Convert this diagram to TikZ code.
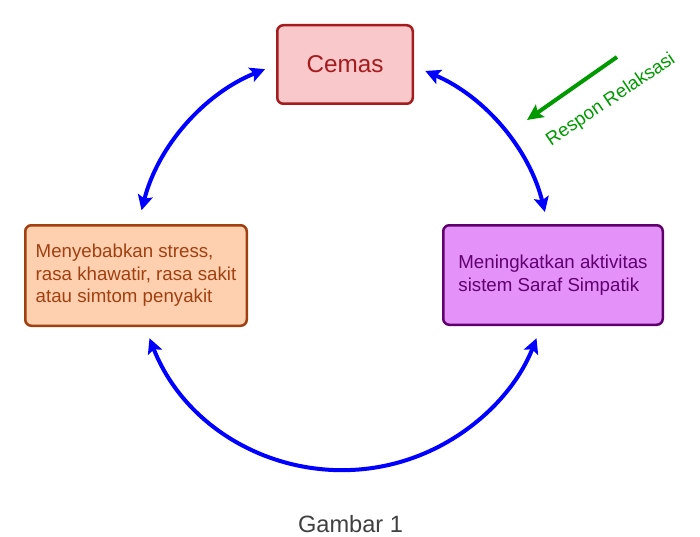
\documentclass[tikz,border=0pt]{standalone}
\usepackage{fontspec}
\setmainfont{Liberation Sans}
\usetikzlibrary{arrows.meta}
\definecolor{cemasline}{RGB}{165,28,30}
\definecolor{cemasfill}{RGB}{248,200,202}
\definecolor{stressline}{RGB}{160,64,16}
\definecolor{stressfill}{RGB}{255,208,176}
\definecolor{sarafline}{RGB}{96,0,110}
\definecolor{saraffill}{RGB}{228,145,250}
\definecolor{relaxgreen}{RGB}{0,153,0}
\begin{document}
\begin{tikzpicture}[x=1pt,y=1pt,
	box/.style={draw,line width=2.5pt,rounded corners=6pt,align=left,font=\fontsize{18.7}{22.5}\selectfont},
	cyc/.style={draw=blue,line width=4pt,<->,>={Stealth[length=15pt,width=15pt,inset=3pt]}},
	relax/.style={draw=relaxgreen,line width=4pt,->,>={Stealth[length=16pt,width=15pt,inset=3pt]}}]
	\useasboundingbox (0,0) rectangle (700,536);
	\node[box,draw=cemasline,fill=cemasfill,text=cemasline,font=\fontsize{24.3}{29}\selectfont,minimum width=135.5pt,minimum height=78.5pt] (cemas) at (345,471.5) {Cemas};
	\node[box,draw=stressline,fill=stressfill,text=stressline,minimum width=221.5pt,minimum height=100.5pt] (stress) at (136,260.5) {Menyebabkan stress,\\rasa khawatir, rasa sakit\\atau simtom penyakit};
	\node[box,draw=sarafline,fill=saraffill,text=sarafline,minimum width=219.5pt,minimum height=99.5pt] (saraf) at (553,261) {Meningkatkan aktivitas\\sistem Saraf Simpatik};
	\coordinate (mid) at (343,274);
	\draw[cyc] ([shift={(112:208pt)}]mid) arc[start angle=112, end angle=165.6, radius=208pt];
	\draw[cyc] ([shift={(66.7:208pt)}]mid) arc[start angle=66.7, end angle=13.9, radius=208pt];
	\draw[cyc] ([shift={(201.5:208pt)}]mid) arc[start angle=201.5, end angle=338.5, radius=208pt];
	\coordinate (relaksasi) at (617,479);
	\coordinate (sasaran) at (527,416);
	\draw[relax] (relaksasi) -- (sasaran);
	\node[text=relaxgreen,rotate=34,font=\fontsize{18.7}{22.5}\selectfont] (respon) at (611,436) {Respon Relaksasi};
	\node[text=black!75,anchor=base,font=\fontsize{23.6}{28}\selectfont] (gambar) at (350.5,4) {Gambar 1};
\end{tikzpicture}
\end{document}
